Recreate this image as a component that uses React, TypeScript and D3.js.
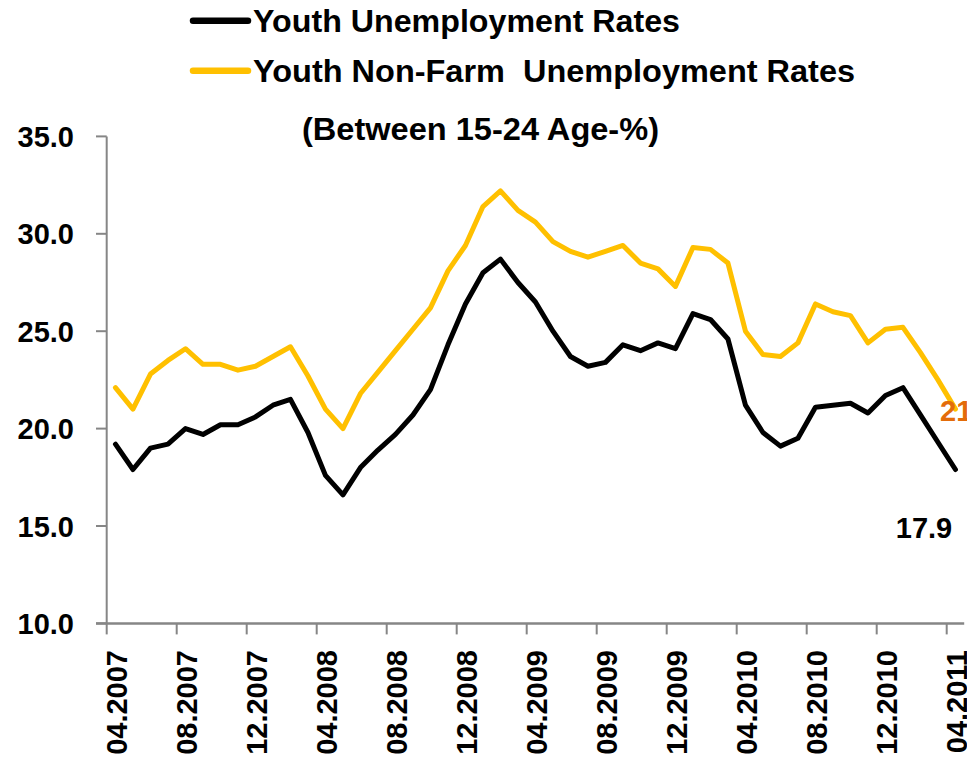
import React from "react";
import * as d3 from "d3";

const months: string[] = [
  "04.2007","05.2007","06.2007","07.2007","08.2007","09.2007","10.2007","11.2007","12.2007",
  "01.2008","02.2008","03.2008","04.2008","05.2008","06.2008","07.2008","08.2008","09.2008","10.2008","11.2008","12.2008",
  "01.2009","02.2009","03.2009","04.2009","05.2009","06.2009","07.2009","08.2009","09.2009","10.2009","11.2009","12.2009",
  "01.2010","02.2010","03.2010","04.2010","05.2010","06.2010","07.2010","08.2010","09.2010","10.2010","11.2010","12.2010",
  "01.2011","02.2011","03.2011","04.2011",
];

const youthUnemployment: number[] = [
  19.2, 17.9, 19.0, 19.2, 20.0, 19.7, 20.2, 20.2, 20.6, 21.2,
  21.5, 19.8, 17.6, 16.6, 18.0, 18.9, 19.7, 20.7, 22.0, 24.3,
  26.4, 28.0, 28.7, 27.5, 26.5, 25.0, 23.7, 23.2, 23.4, 24.3,
  24.0, 24.4, 24.1, 25.9, 25.6, 24.6, 21.2, 19.8, 19.1, 19.5,
  21.1, 21.2, 21.3, 20.8, 21.7, 22.1, 20.7, 19.3, 17.9,
];

const youthNonFarm: number[] = [
  22.1, 21.0, 22.8, 23.5, 24.1, 23.3, 23.3, 23.0, 23.2, 23.7,
  24.2, 22.7, 21.0, 20.0, 21.8, 22.9, 24.0, 25.1, 26.2, 28.1,
  29.4, 31.4, 32.2, 31.2, 30.6, 29.6, 29.1, 28.8, 29.1, 29.4,
  28.5, 28.2, 27.3, 29.3, 29.2, 28.5, 25.0, 23.8, 23.7, 24.4,
  26.4, 26.0, 25.8, 24.4, 25.1, 25.2, 23.9, 22.5, 21.0,
];

const yTicks: number[] = [10, 15, 20, 25, 30, 35];
const legendLabels: string[] = ["Youth Unemployment Rates", "Youth Non-Farm  Unemployment Rates"];
const subtitle = "(Between 15-24 Age-%)";

const BLACK = "#000000";
const YELLOW = "#FFC000";
const ORANGE = "#E36C0A";
const AXIS = "#868686";
const FONT = "'Liberation Sans', Arial, sans-serif";

export default function App() {
  const x = d3.scaleBand<string>().domain(months).range([106.7, 964.2]).padding(0);
  const y = d3.scaleLinear().domain([10, 35]).range([623.4, 136.4]);
  const cx = (m: string) => (x(m) as number) + x.bandwidth() / 2;

  const line = d3
    .line<number>()
    .x((_, i) => cx(months[i]))
    .y((d) => y(d));

  const tickMonths = months.filter((_, i) => i % 4 === 0);
  const lastIdx = months.length - 1;

  return (
    <svg
      width={967}
      height={763}
      style={{ position: "absolute", left: 0, top: 0, background: "#fff" }}
      fontFamily={FONT}
    >
      {/* Legend */}
      <line x1={193} x2={248} y1={20.7} y2={20.7} stroke={BLACK} strokeWidth={6.5} strokeLinecap="round" />
      <text x={253} y={31.5} fontSize={32} fontWeight={700} fill="#000" textLength={427} lengthAdjust="spacingAndGlyphs">
        {legendLabels[0]}
      </text>
      <line x1={193} x2={248} y1={70.7} y2={70.7} stroke={YELLOW} strokeWidth={6.5} strokeLinecap="round" />
      <text x={253} y={81.5} fontSize={32} fontWeight={700} fill="#000" textLength={602} lengthAdjust="spacingAndGlyphs" xmlSpace="preserve">
        {legendLabels[1]}
      </text>
      <text x={302} y={140} fontSize={32} fontWeight={700} fill="#000" textLength={357} lengthAdjust="spacingAndGlyphs">
        {subtitle}
      </text>

      {/* Y axis */}
      <line x1={106.7} x2={106.7} y1={y(35)} y2={y(10)} stroke={AXIS} strokeWidth={2} />
      {yTicks.map((t) => (
        <g key={t}>
          <line x1={96} x2={106.7} y1={y(t)} y2={y(t)} stroke={AXIS} strokeWidth={2} />
          <text x={74} y={y(t) + 10.5} textAnchor="end" fontSize={29} fontWeight={700} fill="#000">
            {t.toFixed(1)}
          </text>
        </g>
      ))}

      {/* X axis */}
      <line x1={96} x2={964.2} y1={y(10)} y2={y(10)} stroke={AXIS} strokeWidth={2.5} />
      {tickMonths.map((m) => (
        <g key={m}>
          <line x1={x(m) as number} x2={x(m) as number} y1={y(10)} y2={y(10) + 11} stroke={AXIS} strokeWidth={2} />
          <text
            transform={`translate(${cx(m) + 12},650) rotate(-90)`}
            textAnchor="end"
            fontSize={29}
            fontWeight={700}
            fill="#000"
          >
            {m}
          </text>
        </g>
      ))}

      {/* Lines */}
      <path d={line(youthNonFarm) || ""} fill="none" stroke={YELLOW} strokeWidth={5} strokeLinejoin="round" strokeLinecap="round" />
      <path d={line(youthUnemployment) || ""} fill="none" stroke={BLACK} strokeWidth={5} strokeLinejoin="round" strokeLinecap="round" />

      {/* End labels */}
      <text x={940} y={421} fontSize={29} fontWeight={700} fill={ORANGE}>
        {youthNonFarm[lastIdx].toFixed(0)}
      </text>
      <text x={924} y={538} textAnchor="middle" fontSize={29} fontWeight={700} fill="#000">
        {youthUnemployment[lastIdx].toFixed(1)}
      </text>
    </svg>
  );
}
